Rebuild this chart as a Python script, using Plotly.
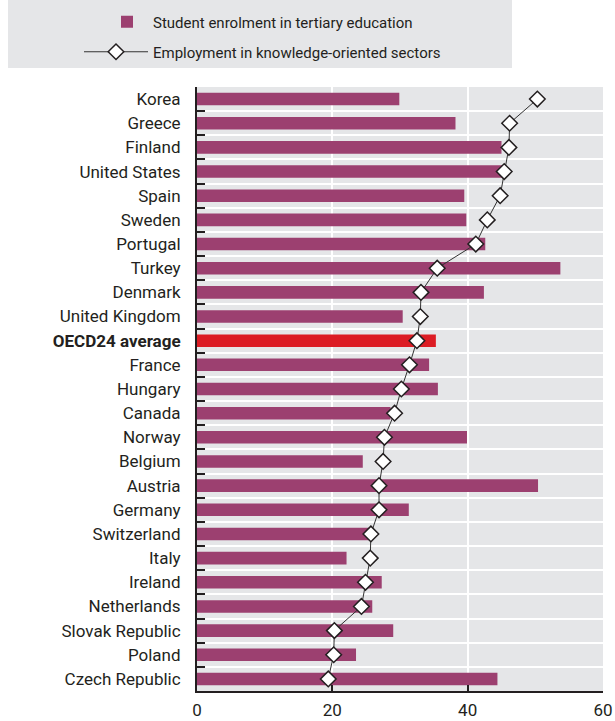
import plotly.graph_objects as go

countries = ["Korea", "Greece", "Finland", "United States", "Spain", "Sweden",
             "Portugal", "Turkey", "Denmark", "United Kingdom", "OECD24 average",
             "France", "Hungary", "Canada", "Norway", "Belgium", "Austria",
             "Germany", "Switzerland", "Italy", "Ireland", "Netherlands",
             "Slovak Republic", "Poland", "Czech Republic"]

enrolment = [29.9, 38.2, 45.0, 45.3, 39.5, 39.8, 42.6, 53.7, 42.4, 30.4, 35.3,
             34.3, 35.6, 28.6, 39.9, 24.5, 50.4, 31.3, 25.4, 22.1, 27.3, 25.9,
             29.0, 23.5, 44.4]

employment = [50.3, 46.2, 46.1, 45.4, 44.8, 42.9, 41.2, 35.5, 33.1, 33.0, 32.5,
              31.4, 30.2, 29.2, 27.7, 27.5, 26.9, 26.9, 25.7, 25.6, 24.9, 24.3,
              20.3, 20.2, 19.4]

x_ticks = [0, 20, 40, 60]

PURPLE = "#9C4070"
RED = "#DC1C24"
DARK = "#231F20"
GREY = "#E5E6E8"
FONT = "Roboto, Arial, sans-serif"

bar_colors = [RED if c == "OECD24 average" else PURPLE for c in countries]
tick_text = ["<b>%s</b>" % c if c == "OECD24 average" else c for c in countries]

fig = go.Figure()
fig.add_trace(go.Bar(
    x=enrolment, y=countries, orientation="h",
    marker=dict(color=bar_colors, line=dict(width=0)),
    name="Student enrolment in tertiary education",
    legend="legend",
))
fig.add_trace(go.Scatter(
    x=employment, y=countries, mode="lines+markers",
    line=dict(color="#333333", width=1),
    marker=dict(symbol="diamond", size=12, color="white",
                line=dict(color=DARK, width=1.5)),
    name="Employment in knowledge-oriented sectors",
    legend="legend2",
))

L, R, T, B = 197, 12, 87, 30
W, H = 615, 721
pw = W - L - R
ph = H - T - B

def px_to_paper_x(px):
    return (px - L) / pw

def px_to_paper_y(py):
    return 1 + (T - py) / ph

fig.update_layout(
    width=W, height=H,
    margin=dict(l=L, r=R, t=T, b=B, pad=0, autoexpand=False),
    paper_bgcolor="white",
    plot_bgcolor=GREY,
    font=dict(family=FONT, size=16, color=DARK),
    bargap=0.48,
    showlegend=True,
    legend=dict(
        x=px_to_paper_x(101), xanchor="left",
        y=px_to_paper_y(22), yanchor="middle",
        bgcolor="rgba(0,0,0,0)", borderwidth=0,
        itemwidth=42,
        font=dict(family=FONT, size=15, color=DARK),
    ),
    legend2=dict(
        x=px_to_paper_x(79), xanchor="left",
        y=px_to_paper_y(52), yanchor="middle",
        bgcolor="rgba(0,0,0,0)", borderwidth=0,
        itemwidth=64,
        font=dict(family=FONT, size=15, color=DARK),
    ),
    shapes=[dict(
        type="rect", xref="paper", yref="paper", layer="below",
        x0=px_to_paper_x(8), x1=px_to_paper_x(512),
        y0=px_to_paper_y(68), y1=px_to_paper_y(0),
        fillcolor=GREY, line=dict(width=0),
    )],
)

fig.update_yaxes(
    type="category",
    categoryorder="array", categoryarray=countries,
    tickvals=countries, ticktext=tick_text,
    range=[len(countries) - 0.5, -0.5],
    tickson="boundaries",
    ticks="inside", ticklen=8, tickwidth=1.5, tickcolor=DARK,
    showgrid=True, gridcolor="white", gridwidth=1.5,
    showline=True, linecolor=DARK, linewidth=2,
    ticklabelstandoff=11,
    tickfont=dict(family=FONT, size=17, color=DARK),
)
fig.update_xaxes(
    range=[0, 60], tickvals=x_ticks,
    ticks="inside", ticklen=6, tickwidth=1.5, tickcolor=DARK,
    showgrid=True, gridcolor="white", gridwidth=2,
    zeroline=False,
    showline=True, linecolor=DARK, linewidth=2,
    ticklabelstandoff=3,
    tickfont=dict(family=FONT, size=17, color=DARK),
)

fig.write_html("out.html",
               config={"displayModeBar": False},
               post_script="document.body.style.margin='0';")
